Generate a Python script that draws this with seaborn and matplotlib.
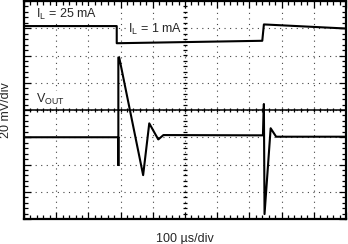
import numpy as np
import pandas as pd
import matplotlib
matplotlib.use("Agg")
import matplotlib.pyplot as plt
import seaborn as sns
from matplotlib.ticker import MultipleLocator, NullFormatter

# ---- data (in screen divisions: x 0..10, y 0..8) ----
load_t = [0, 2.88, 2.88, 7.40, 7.45, 10]
load_v = [7.08, 7.08, 6.45, 6.54, 7.14, 6.99]

vout_t = [0, 2.93, 2.93, 2.93, 2.96, 3.70, 3.89, 4.17, 4.33, 7.42, 7.45, 7.47, 7.66, 7.83, 10]
vout_v = [3.00, 3.00, 1.98, 5.93, 5.91, 1.61, 3.51, 2.92, 3.08, 3.07, 4.22, 0.18, 3.33, 3.02, 3.02]

label_load_hi = "I$_\\mathregular{L}$ = 25 mA"
label_load_lo = "I$_\\mathregular{L}$ = 1 mA"
label_vout = "V$_\\mathregular{OUT}$"
xlabel = "100 \u00b5s/div"
ylabel = "20 mV/div"

sns.set_style("white")
plt.rcParams["font.family"] = ["Liberation Sans", "DejaVu Sans"]
plt.rcParams["mathtext.default"] = "regular"

fig = plt.figure(figsize=(3.48, 2.44), dpi=100)
ax = fig.add_axes([24 / 348, 1 - 219 / 244, 322 / 348, 218 / 244])

df_load = pd.DataFrame({"t": load_t, "v": load_v})
df_vout = pd.DataFrame({"t": vout_t, "v": vout_v})

sns.lineplot(data=df_load, x="t", y="v", sort=False, estimator=None,
             color="black", linewidth=1.5, ax=ax, zorder=5)
sns.lineplot(data=df_vout, x="t", y="v", sort=False, estimator=None,
             color="black", linewidth=1.5, ax=ax, zorder=5)

ax.set_xlim(0, 10)
ax.set_ylim(0, 8)

# dotted grid
ax.xaxis.set_major_locator(MultipleLocator(1))
ax.yaxis.set_major_locator(MultipleLocator(1))
ax.xaxis.set_minor_locator(MultipleLocator(0.2))
ax.yaxis.set_minor_locator(MultipleLocator(0.2))
ax.xaxis.set_major_formatter(NullFormatter())
ax.yaxis.set_major_formatter(NullFormatter())
ax.grid(True, which="major", color="#444444", linestyle=(0, (1, 4)), linewidth=0.8)
ax.tick_params(which="both", direction="in", top=True, right=True,
               bottom=True, left=True, color="black", width=0.9)
ax.tick_params(which="major", length=5)
ax.tick_params(which="minor", length=3)
for s in ax.spines.values():
    s.set_color("black")
    s.set_linewidth(1.6)

# center graticule with ticks
ax.axhline(4, color="black", linewidth=1.1, zorder=3)
minor_pos_x = np.arange(0.2, 10, 0.2)
minor_pos_y = np.arange(0.2, 8, 0.2)
ax.vlines(minor_pos_x, 4 - 0.09, 4 + 0.09, color="black", linewidth=0.9, zorder=3)
ax.hlines(minor_pos_y, 5 - 0.07, 5 + 0.07, color="black", linewidth=0.9, zorder=3)

ax.set_xlabel(xlabel, fontsize=9, va="top")
ax.xaxis.set_label_coords(0.5, -0.062)
ax.set_ylabel(ylabel, fontsize=9, va="bottom")
ax.yaxis.set_label_coords(-0.038, 0.5)

tbox = dict(facecolor="white", edgecolor="none", pad=0.5)
ax.text(0.37, 7.52, label_load_hi, fontsize=9, va="center", ha="left", bbox=tbox, zorder=4)
ax.text(3.23, 6.97, label_load_lo, fontsize=9, va="center", ha="left", bbox=tbox, zorder=4)
ax.text(0.37, 4.40, label_vout, fontsize=9, va="center", ha="left", bbox=tbox, zorder=4)

fig.savefig("out.png", dpi=100)
